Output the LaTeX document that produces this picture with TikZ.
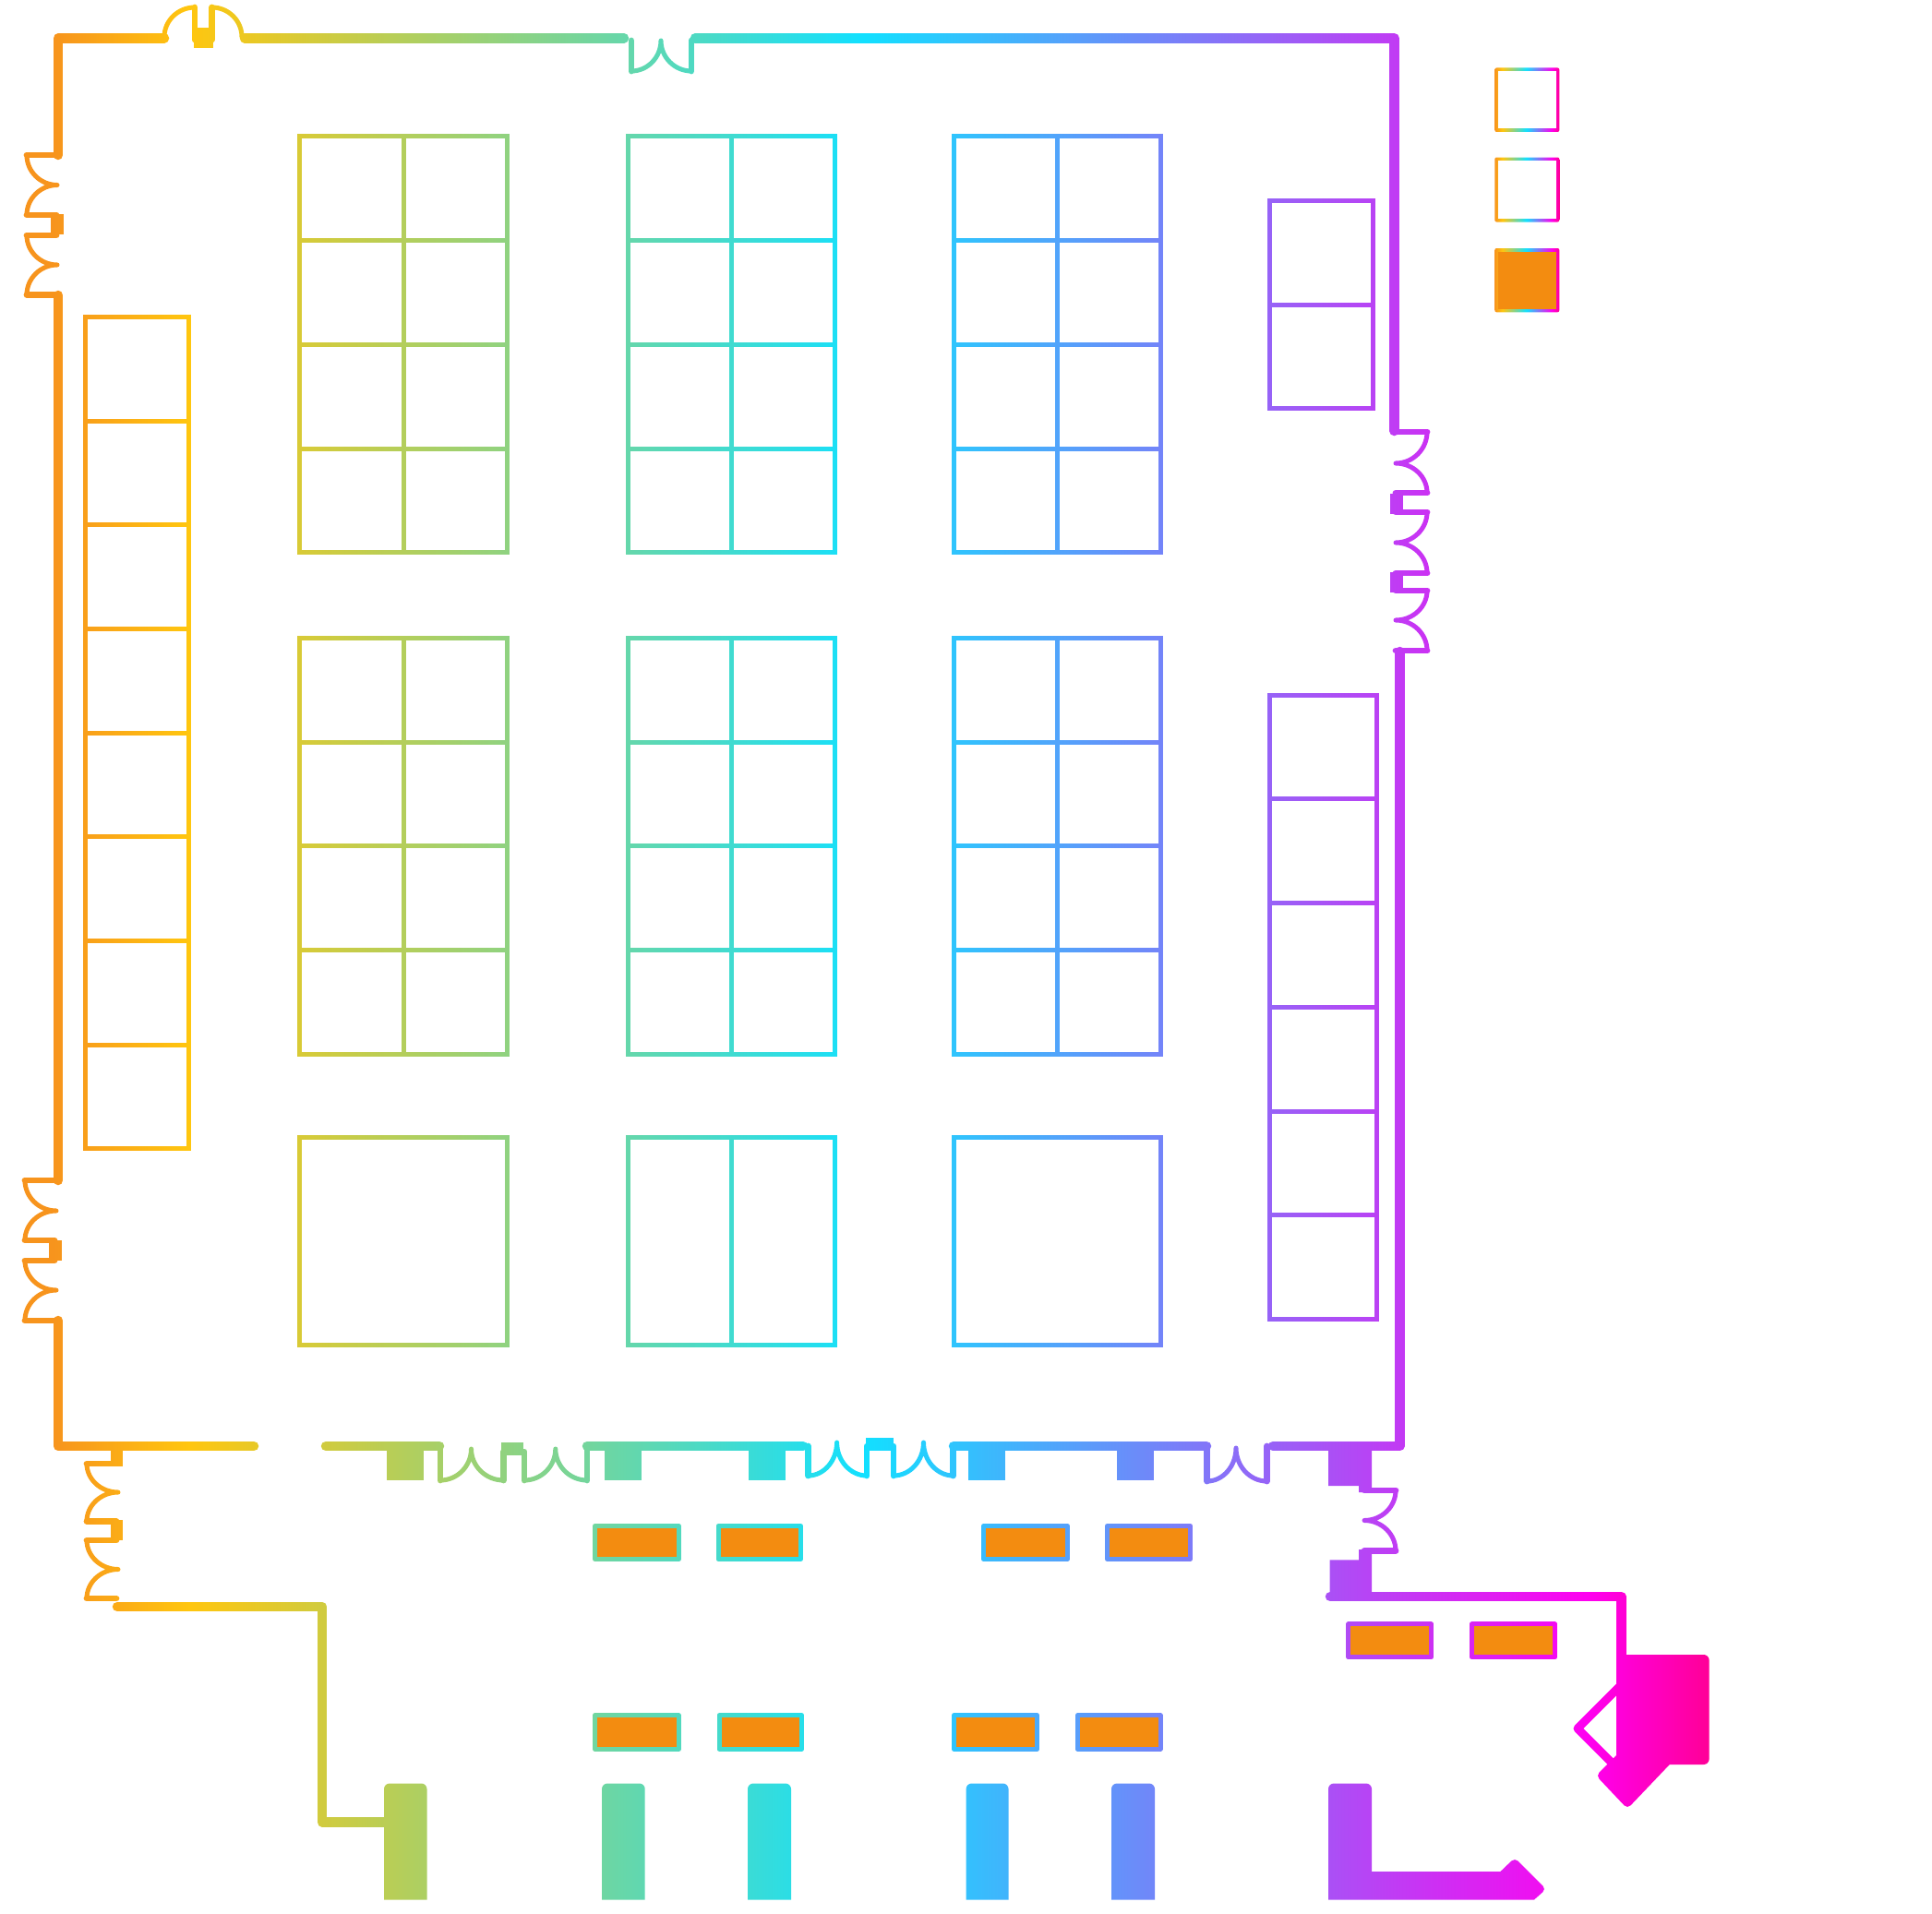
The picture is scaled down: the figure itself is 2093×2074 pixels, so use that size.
\documentclass[tikz,border=0pt]{standalone}
\usetikzlibrary{calc}
\definecolor{gA}{HTML}{F7941D}
\definecolor{gB}{HTML}{FFC60F}
\definecolor{gC}{HTML}{12E0FF}
\definecolor{gD}{HTML}{FF00F0}
\definecolor{gE}{HTML}{FF0090}
\definecolor{boxorange}{HTML}{F38C10}
% stops: position = 25 + 50*x/2093 with x = 60, 205, 935, 1720, 1861
\pgfdeclarehorizontalshading{wallgrad}{100bp}{color(0bp)=(gA); color(26.4bp)=(gA); color(29.9bp)=(gB); color(47.34bp)=(gC); color(66.09bp)=(gD); color(69.46bp)=(gE); color(100bp)=(gE)}
\pgfdeclarehorizontalshading{keygrad}{100bp}{color(0bp)=(gA); color(25bp)=(gA); color(31bp)=(gB); color(49.5bp)=(gC); color(69bp)=(gD); color(75bp)=(gE); color(100bp)=(gE)}
\newcommand\cv[3]{.. controls ($(#1)!.55!(#2)$) and ($(#3)!.55!(#2)$) .. (#3)}
\newcommand\tgrid[4]{% x0,y0,cols,rows
  \draw[tbl] (#1,#2) rectangle ++(#3*112.4,#4*112.7);
  \foreach \i in {1,...,#4}{\ifnum\i<#4\relax\draw[tbl] (#1,#2+\i*112.7) -- ++(#3*112.4,0);\fi}
  \ifnum#3>1\relax\draw[tbl] (#1+112.4,#2) -- ++(0,#4*112.7);\fi}
\newcommand\obox[4]{% outer x0,y0,x1,y1
  \fill[boxorange] (#1+5,#2+5) rectangle (#3-5,#4-5);}
\newcommand\oframe[4]{\draw[oline] (#1+2.5,#2+2.5) rectangle (#3-2.5,#4-2.5);}
\tikzset{
  wall/.style={line width=10.5pt,line cap=round,line join=round,black},
  jamb/.style={line width=6.8pt,line cap=round,line join=round,black},
  door/.style={line width=5pt,line cap=round,line join=round,black},
  tbl/.style={line width=5pt,black,line join=miter},
  solid/.style={fill=black,draw=none},
  oline/.style={line width=5pt,black,line join=round},
  keybox/.style={shading=keygrad,rounded corners=2pt}
}
\begin{document}
\begin{tikzpicture}[x=1pt,y=-1pt]
\useasboundingbox (0,0) rectangle (2093,2074);
\fill[white] (0,0) rectangle (2093,2074);
% tables
\tgrid{324.8}{148}{2}{4}\tgrid{680}{148}{2}{4}\tgrid{1033}{148}{2}{4}
\tgrid{324.8}{691.5}{2}{4}\tgrid{680}{691.5}{2}{4}\tgrid{1033}{691.5}{2}{4}
\draw[tbl] (324.8,1232) rectangle (549.6,1457);
\draw[tbl] (680,1232) rectangle (904.8,1457);
\draw[tbl] (792.4,1232) -- (792.4,1457);
\draw[tbl] (1033,1232) rectangle (1257.8,1457);
\tgrid{92}{343.3}{1}{8}
\tgrid{1375}{217.5}{1}{2}
\draw[tbl] (1375,753) rectangle (1491,1429);
\foreach \i in {1,...,5}{\draw[tbl] (1375,753+\i*112.75) -- (1491,753+\i*112.75);}
% outer walls
\draw[wall] (178,41.3) -- (63,41.3) -- (63,168);
\draw[wall] (265,41.3) -- (676,41.3);
\draw[wall] (753,41.3) -- (1510.5,41.3) -- (1510.5,467);
\draw[wall] (63,320) -- (63,1279);
\draw[wall] (63,1431) -- (63,1567) -- (275,1567);
\draw[wall] (1516.5,706) -- (1516.5,1567) -- (1379,1567);
\draw[wall] (353,1567) -- (476,1567);
\draw[wall] (636,1567) -- (870,1567);
\draw[wall] (1033,1567) -- (1307,1567);
\draw[wall] (127,1741) -- (349,1741) -- (349,1974.5) -- (420,1974.5);
\draw[wall] (1441,1730) -- (1756.5,1730) -- (1756.5,1800);
% top doors
\draw[door] (178,40) \cv{178,40}{178,8}{211,8};
\draw[jamb] (211,8) -- (211,43);
\draw[jamb] (229.6,8) -- (229.6,43);
\draw[door] (229.6,8) \cv{229.6,8}{262,8}{262,40};
\fill[solid] (210,30) rectangle (231,52.5);
\draw[jamb] (684,44) -- (684,77);
\draw[door] (684,77) \cv{684,77}{716,77}{716,44} \cv{716,44}{716,77}{749,77};
\draw[jamb] (749,77) -- (749,44);
% left door upper
\draw[jamb] (63,168) -- (29,168);
\draw[door] (29,168) \cv{29,168}{29,200.5}{62,200.5} \cv{62,200.5}{29,200.5}{29,233};
\draw[jamb] (29,233) -- (61,233);
\fill[solid] (55,231.7) rectangle (69,254);
\draw[jamb] (61,255) -- (29,255);
\draw[door] (29,255) \cv{29,255}{29,287}{62,287} \cv{62,287}{29,287}{29,319.5};
\draw[jamb] (29,319.5) -- (63,319.5);
% left door lower
\draw[jamb] (63,1279) -- (27,1279);
\draw[door] (27,1279) \cv{27,1279}{27,1312}{61,1312} \cv{61,1312}{27,1312}{27,1344};
\draw[jamb] (27,1344) -- (59,1344);
\fill[solid] (53,1344) rectangle (67,1366);
\draw[jamb] (59,1366) -- (27,1366);
\draw[door] (27,1366) \cv{27,1366}{27,1398}{61,1398} \cv{61,1398}{27,1398}{27,1431};
\draw[jamb] (27,1431) -- (63,1431);
% right door
\draw[jamb] (1510,468) -- (1546,468);
\draw[door] (1546,468) \cv{1546,468}{1546,502}{1512,502} \cv{1512,502}{1546,502}{1546,534};
\draw[jamb] (1546,534) -- (1512,534);
\fill[solid] (1506,535) rectangle (1520,557);
\draw[jamb] (1512,555) -- (1546,555);
\draw[door] (1546,555) \cv{1546,555}{1546,588}{1512,588} \cv{1512,588}{1546,588}{1546,621};
\draw[jamb] (1546,621) -- (1512,621);
\fill[solid] (1506,620) rectangle (1520,641.5);
\draw[jamb] (1512,640) -- (1546,640);
\draw[door] (1546,640) \cv{1546,640}{1546,672}{1512,672} \cv{1512,672}{1546,672}{1546,705};
\draw[jamb] (1546,705) -- (1512,705);
% lower-left door
\fill[solid] (119.6,1567) rectangle (133,1588.5);
\draw[jamb] (126,1586) -- (94,1586);
\draw[door] (94,1586) \cv{94,1586}{94,1617}{128,1617} \cv{128,1617}{94,1617}{94,1648.5};
\draw[jamb] (94,1648.5) -- (126,1648.5);
\fill[solid] (119.6,1647) rectangle (133,1668.5);
\draw[jamb] (126,1669) -- (94,1669);
\draw[door] (94,1669) \cv{94,1669}{94,1700.5}{128,1700.5} \cv{128,1700.5}{94,1700.5}{94,1732};
\draw[jamb] (94,1732) -- (126,1732);
% bottom-wall doors
\draw[jamb] (477,1567) -- (477,1604);
\draw[door] (477,1604) \cv{477,1604}{510.5,1604}{510.5,1570} \cv{510.5,1570}{510.5,1604}{545.5,1604};
\draw[jamb] (545.5,1604) -- (545.5,1573) -- (568,1573) -- (568,1604);
\fill[solid] (543,1563) rectangle (567,1577);
\draw[door] (568,1604) \cv{568,1604}{601.8,1604}{601.8,1570} \cv{601.8,1570}{601.8,1604}{636,1604};
\draw[jamb] (636,1604) -- (636,1567);
\draw[jamb] (875.5,1567) -- (875.5,1599);
\draw[door] (875.5,1599) \cv{875.5,1599}{906.6,1599}{906.6,1563} \cv{906.6,1563}{906.6,1599}{939,1599};
\draw[jamb] (939,1599) -- (939,1567) -- (968,1567) -- (968,1599);
\fill[solid] (937.8,1558) rectangle (968,1572);
\draw[door] (968,1599) \cv{968,1599}{1000.5,1599}{1000.5,1563} \cv{1000.5,1563}{1000.5,1599}{1032.7,1599};
\draw[jamb] (1032.7,1599) -- (1032.7,1567);
\draw[jamb] (1307.6,1567) -- (1307.6,1605);
\draw[door] (1307.6,1605) \cv{1307.6,1605}{1339,1605}{1339,1569} \cv{1339,1569}{1339,1605}{1372.4,1605};
\draw[jamb] (1372.4,1605) -- (1372.4,1567);
% beams under the wall
\fill[solid] (419,1567) rectangle (459,1604);
\fill[solid] (655,1567) rectangle (695.4,1604);
\fill[solid] (811.2,1567) rectangle (851,1604);
\fill[solid] (1049,1567) rectangle (1088.8,1604);
\fill[solid] (1209.7,1567) rectangle (1249.5,1604);
\fill[solid] (1439,1567) -- (1486,1567) -- (1486,1617) -- (1472,1617) -- (1472,1610) -- (1439,1610) -- cycle;
% right lower door
\draw[jamb] (1478,1615) -- (1512,1615);
\draw[door] (1512,1615) \cv{1512,1615}{1512,1647.5}{1478,1647.5} \cv{1478,1647.5}{1512,1647.5}{1512,1680.5};
\draw[jamb] (1512,1680.5) -- (1478,1680.5);
\fill[solid] (1472,1679) -- (1486,1679) -- (1486,1733) -- (1440.6,1733) -- (1440.6,1690.4) -- (1472,1690.4) -- cycle;
% pillars
\foreach \xa/\xb in {416/462.5,652/698.7,810/857,1046.6/1092.5,1204/1251}{
  \fill[solid,rounded corners=6pt] (\xa,2058.5) [sharp corners] -- (\xa,2040) [rounded corners=6pt] -- (\xa,1932.5) -- (\xb,1932.5) -- (\xb,2040) [sharp corners] -- (\xb,2058.5) -- cycle;}
\fill[solid,rounded corners=6pt] (1439,2058.5) [sharp corners] -- (1439,2040) [rounded corners=6pt] -- (1439,1932.5) -- (1486,1932.5) [sharp corners] -- (1486,2028) -- (1625.4,2028) [rounded corners=5pt] -- (1641,2013) -- (1675,2047) [sharp corners] -- (1662,2058.5) -- cycle;
% entry block
\fill[solid] (1751,1793) [rounded corners=6pt] -- (1851.6,1793) -- (1851.6,1912) [sharp corners] -- (1808.7,1912) [rounded corners=5pt] -- (1763,1960) -- (1729,1924) [sharp corners] -- (1741,1912) -- (1751,1902) -- cycle;
\draw[line width=9pt,line join=round,line cap=round,black] (1754,1828) -- (1709,1873) -- (1749,1913);
% orange-box frames
\foreach \xa/\xb in {642/737.8,775.5/870,1063/1158.7,1197/1292}{\oframe{\xa}{1651}{\xb}{1692}}
\foreach \xa/\xb in {642/737.8,776.5/871,1031/1126,1164.8/1259.7}{\oframe{\xa}{1856.3}{\xb}{1897.7}}
\foreach \xa/\xb in {1458.3/1553,1592/1687}{\oframe{\xa}{1757.4}{\xb}{1798.4}}
% horizontal colour wash over everything black
\begin{scope}[blend mode=screen]
\path[shading=wallgrad] (0,0) rectangle (2093,2074);
\end{scope}
% orange fills
\foreach \xa/\xb in {642/737.8,775.5/870,1063/1158.7,1197/1292}{\obox{\xa}{1651}{\xb}{1692}}
\foreach \xa/\xb in {642/737.8,776.5/871,1031/1126,1164.8/1259.7}{\obox{\xa}{1856.3}{\xb}{1897.7}}
\foreach \xa/\xb in {1458.3/1553,1592/1687}{\obox{\xa}{1757.4}{\xb}{1798.4}}
% key
\path[keybox] (1619.3,73.5) rectangle (1689.3,143);
\fill[white] (1623,77.3) rectangle (1685.5,139.2);
\path[keybox] (1619.3,170.5) rectangle (1689.3,240.5);
\fill[white] (1623,174.3) rectangle (1685.5,236.7);
\path[keybox] (1619.3,269) rectangle (1689.3,338.3);
\fill[boxorange] (1623,272.8) rectangle (1685.5,334.5);
\end{tikzpicture}
\end{document}
